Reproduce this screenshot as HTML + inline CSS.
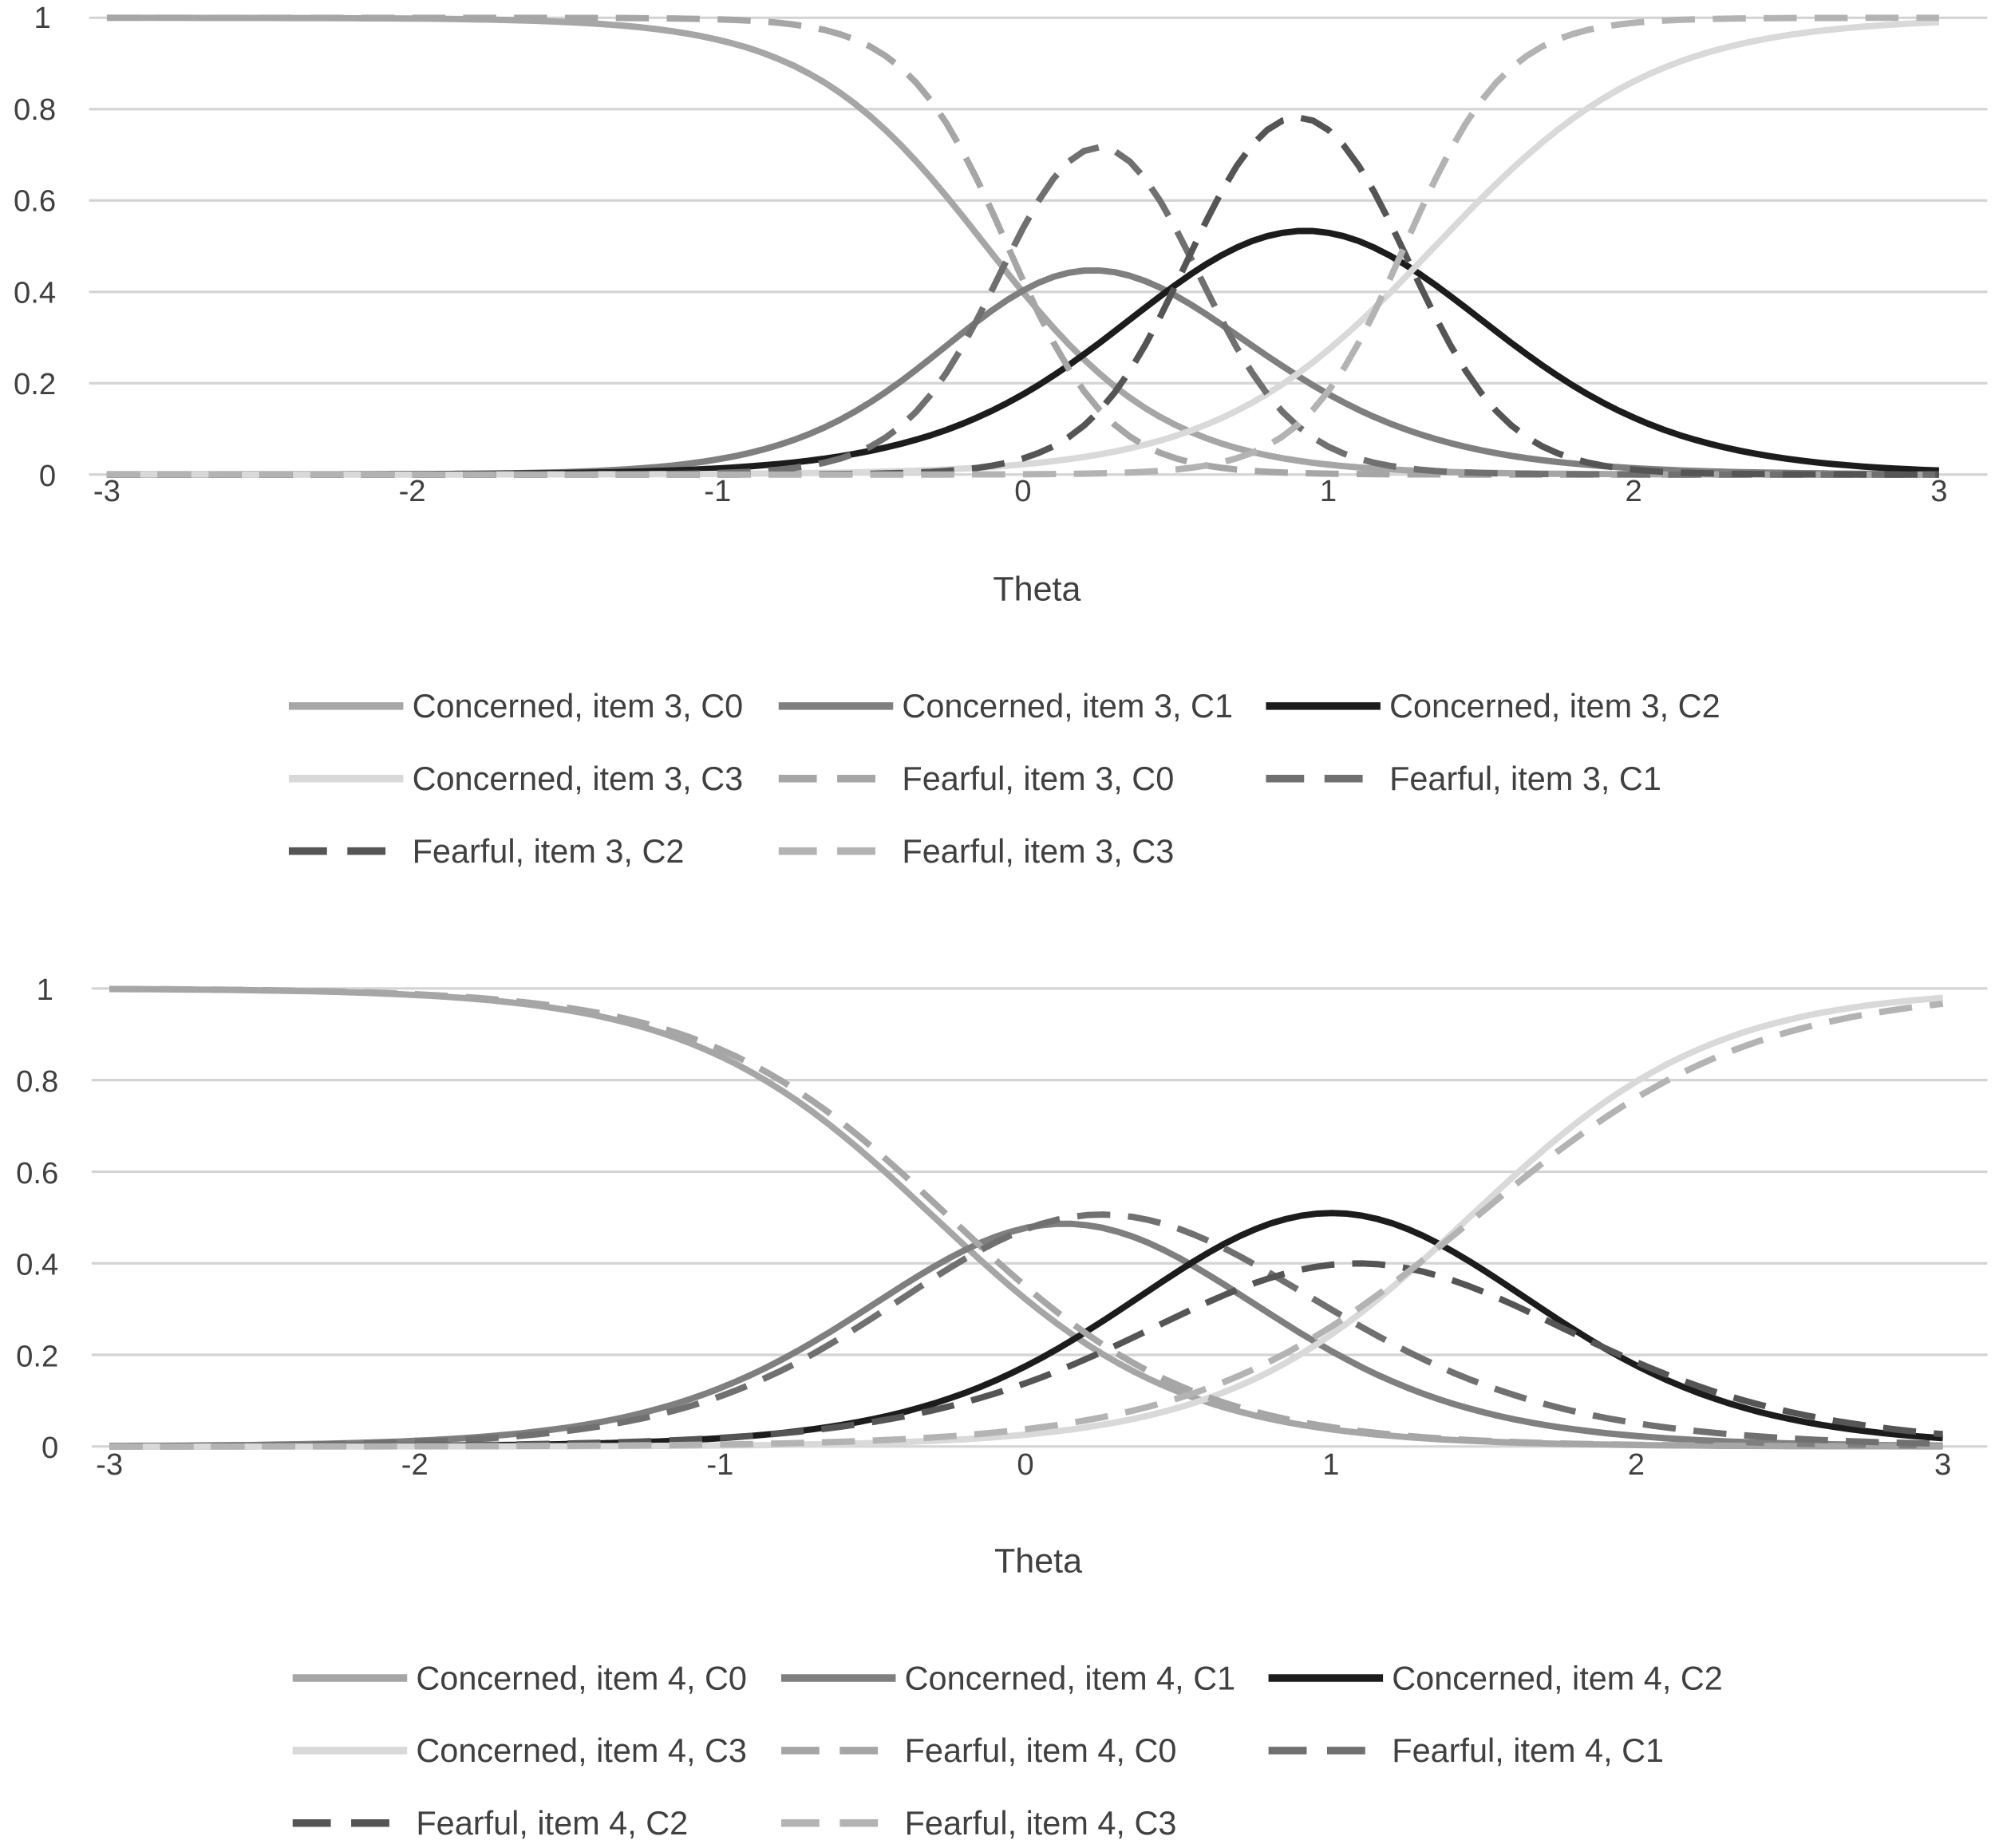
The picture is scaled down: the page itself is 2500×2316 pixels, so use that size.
<!DOCTYPE html>
<html><head><meta charset="utf-8"><style>html,body{margin:0;padding:0;background:#fff}svg{display:block}</style></head>
<body>
<svg id="s" width="2500" height="2316" viewBox="0 0 1568 1452.6" font-family="Liberation Sans, sans-serif">
<rect width="1568" height="1452.6" fill="#fff"/>
<g id="g"></g>
<g font-size="24" fill="#404040" text-anchor="middle">
<text x="40" y="22" text-anchor="end">1</text><text x="44" y="94" text-anchor="end">0.8</text><text x="44" y="166" text-anchor="end">0.6</text><text x="44" y="238" text-anchor="end">0.4</text><text x="44" y="310" text-anchor="end">0.2</text><text x="44" y="382" text-anchor="end">0</text>
<text x="84" y="394">-3</text><text x="324" y="394">-2</text><text x="564" y="394">-1</text><text x="804" y="394">0</text><text x="1044" y="394">1</text><text x="1284" y="394">2</text><text x="1524" y="394">3</text>
<text x="815" y="472" font-size="27">Theta</text>
<text x="42" y="786" text-anchor="end">1</text><text x="46" y="858" text-anchor="end">0.8</text><text x="46" y="930" text-anchor="end">0.6</text><text x="46" y="1002" text-anchor="end">0.4</text><text x="46" y="1074" text-anchor="end">0.2</text><text x="46" y="1146" text-anchor="end">0</text>
<text x="86" y="1159">-3</text><text x="326" y="1159">-2</text><text x="566" y="1159">-1</text><text x="806" y="1159">0</text><text x="1046" y="1159">1</text><text x="1286" y="1159">2</text><text x="1527" y="1159">3</text>
<text x="816" y="1236" font-size="27">Theta</text>
</g>
<g id="leg" font-size="26" fill="#404040"></g>
</svg>
<script>
var NS="http://www.w3.org/2000/svg",g=document.getElementById('g'),lg=document.getElementById('leg');
function L(x){return 1/(1+Math.exp(-x));}
function el(p,t,a){var e=document.createElementNS(NS,t);for(var k in a)e.setAttribute(k,a[k]);p.appendChild(e);return e;}
var colsC=["#a6a6a6","#7f7f7f","#1c1c1c","#d9d9d9"],colsF=["#a6a6a6","#707070","#555555","#b3b3b3"];
function chart(x0,x1,y1,y0,gl,gr,C,F){
 for(var i=0;i<=5;i++){var y=y0+(y1-y0)*i/5;el(g,'line',{x1:gl,x2:gr,y1:y,y2:y,stroke:'#d4d4d4','stroke-width':2});}
 function draw(p,col,dash){
  for(var c=0;c<4;c++){var d="";for(var k=0;k<=120;k++){var t=-3+6*k/120;
   var P=[1,L(p.a[0]*(t-p.b[0])),L(p.a[1]*(t-p.b[1])),L(p.a[2]*(t-p.b[2])),0];var v=P[c]-P[c+1];
   var X=x0+(x1-x0)*(t+3)/6,Y=y0+(y1-y0)*v;d+=(k?"L":"M")+X.toFixed(1)+","+Y.toFixed(1);}
   var a={d:d,fill:'none',stroke:col[c],'stroke-width':5,'stroke-linejoin':'round'};if(dash)a['stroke-dasharray']='26,14';el(g,'path',a);}
 }
 draw(C,colsC,false);draw(F,colsF,true);
}
chart(84,1524,14,373,70,1562,{a:[3.4,2.8,2.8],b:[-0.12,0.5,1.35]},{a:[6,6,6],b:[-0.05,0.55,1.25]});
chart(86,1527,777,1137,72,1562,{a:[2.5,2.5,2.5],b:[-0.3,0.55,1.45]},{a:[2.5,2.2,2.2],b:[-0.25,0.7,1.47]});
function legend(rows,xs,item){
 var labs=[["Concerned","C0",colsC[0],0],["Concerned","C1",colsC[1],0],["Concerned","C2",colsC[2],0],["Concerned","C3",colsC[3],0],["Fearful","C0",colsF[0],1],["Fearful","C1",colsF[1],1],["Fearful","C2",colsF[2],1],["Fearful","C3",colsF[3],1]];
 for(var i=0;i<8;i++){var r=Math.floor(i/3),c=i%3,y=rows[r],x=xs[c];
  var a={x1:x,x2:x+90,y1:y-7,y2:y-7,stroke:labs[i][2],'stroke-width':6};if(labs[i][3])a['stroke-dasharray']='30,16';
  el(lg,'line',a);var t=el(lg,'text',{x:x+97,y:y+2});t.textContent=labs[i][0]+", item "+item+", "+labs[i][1];}
}
legend([562,619,676],[227,612,995],3);
legend([1326,1383,1440],[230,614,997],4);
</script>
</body></html>
